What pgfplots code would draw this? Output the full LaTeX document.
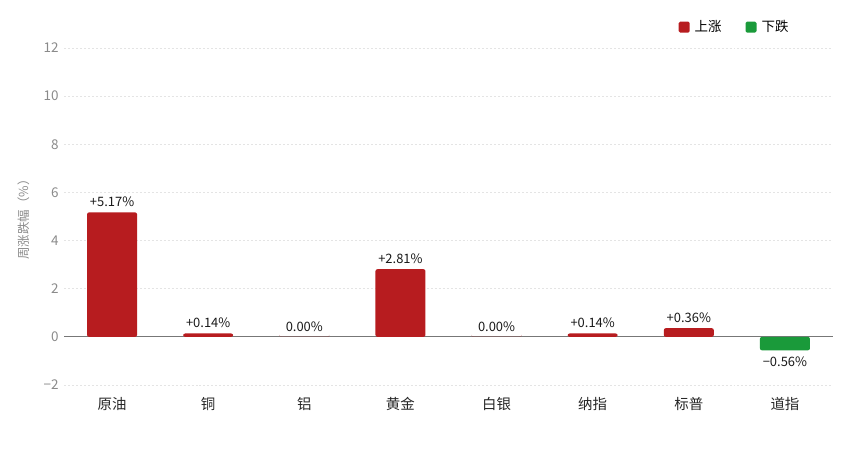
\documentclass[border=0pt]{standalone}
\usepackage{pgfplots}
\pgfplotsset{compat=1.18}
\usepackage{fontspec}
\setmainfont{Noto Sans CJK SC}
\definecolor{upred}{HTML}{B71C1F}
\definecolor{downgreen}{HTML}{1A9A3A}
\definecolor{tickgray}{HTML}{8A8A8A}
\definecolor{gridgray}{HTML}{E4E4E4}
\definecolor{zeroline}{HTML}{777777}
\begin{document}
\begin{tikzpicture}[x=1bp,y=1bp]
\useasboundingbox (0,0) rectangle (865,470);
\begin{axis}[
  at={(64bp,85bp)}, anchor=south west,
  scale only axis, width=769bp, height=337bp,
  xmin=-0.5, xmax=7.5, ymin=-2, ymax=12,
  ytick={-2,2,4,6,8,10,12},
  yticklabels={−2,2,4,6,8,10,12},
  extra y ticks={0},
  extra y tick labels={0},
  extra y tick style={grid style={solid, draw=zeroline, line width=1pt}},
  xtick={0,...,7},
  xticklabels={原油,铜,铝,黄金,白银,纳指,标普,道指},
  axis line style={draw=none},
  major tick length=0pt,
  ymajorgrids,
  grid style={dash pattern=on 2pt off 2pt, draw=gridgray, line width=0.6pt},
  yticklabel style={font=\fontsize{13.5}{15}\selectfont, text=tickgray, xshift=-2bp},
  xticklabel style={font=\fontsize{14.5}{16}\selectfont, text=black!85, yshift=-9bp},
  ylabel={周涨跌幅（\%）},
  ylabel style={font=\fontsize{12.5}{14}\selectfont, text=tickgray, yshift=7bp},
  ybar, bar width=50bp, bar shift=0pt,
  nodes near coords style={font=\fontsize{13}{15}\selectfont, text=black!90},
  legend style={at={(0.872,1.062)}, anchor=center, draw=none, fill=none,
    font=\fontsize{13.5}{15}\selectfont, legend columns=2,
    /tikz/every odd column/.append style={column sep=3bp},
    /tikz/every even column/.append style={column sep=22bp}},
  legend image code/.code={\fill[#1, rounded corners=1.5bp] (0bp,-5.5bp) rectangle (11bp,5.5bp);},
]
\addplot[fill=upred, draw=none, rounded corners=2bp,
  point meta=explicit symbolic, nodes near coords,
  nodes near coords style={anchor=south, yshift=2bp}]
  table[meta=lab] {
x y lab
0 5.17 +5.17\%
1 0.14 +0.14\%
2 0.00 0.00\%
3 2.81 +2.81\%
4 0.00 0.00\%
5 0.14 +0.14\%
6 0.36 +0.36\%
};
\addlegendentry{上涨}
\addplot[fill=downgreen, draw=none, rounded corners=2bp,
  point meta=explicit symbolic, nodes near coords,
  nodes near coords style={anchor=north, yshift=-3bp}]
  table[meta=lab] {
x y lab
7 -0.56 −0.56\%
};
\addlegendentry{下跌}
\end{axis}
\end{tikzpicture}
\end{document}
